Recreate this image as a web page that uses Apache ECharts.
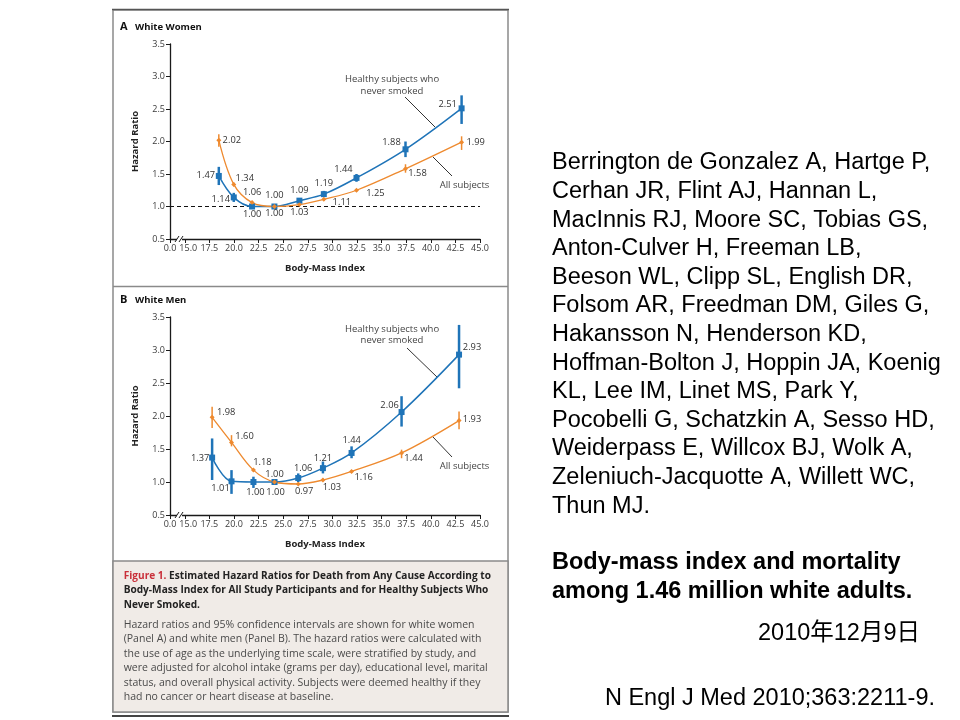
<!DOCTYPE html>
<html><head><meta charset="utf-8">
<script src="https://cdn.jsdelivr.net/npm/echarts@6/dist/echarts.min.js"></script>
<style>html,body{margin:0;padding:0;background:#fff}#c{width:960px;height:720px}</style>
</head><body><div id="c"></div>
<script>
// ---------- data ----------
const xTickValues = [15, 17.5, 20, 22.5, 25, 27.5, 30, 32.5, 35, 37.5, 40, 42.5, 45];
const xBreakValue = 13.5;            // drawn as "0.0" (axis break)
const yTickValues = [0.5, 1.0, 1.5, 2.0, 2.5, 3.0, 3.5];

const womenBmi = [18.46, 19.98, 21.84, 24.11, 26.65, 29.13, 32.45, 37.43, 43.13];
const womenHealthy = [1.47, 1.14, 1.00, 1.00, 1.09, 1.19, 1.44, 1.88, 2.51];
const womenHealthyLow = [1.33, 1.07, 0.97, null, 1.06, 1.15, 1.38, 1.76, 2.27];
const womenHealthyHigh = [1.61, 1.21, 1.03, null, 1.12, 1.24, 1.50, 2.00, 2.71];
const womenAll = [2.02, 1.34, 1.06, 1.00, 1.03, 1.11, 1.25, 1.58, 1.99];
const womenAllLow = [1.92, 1.31, 1.04, null, 1.02, 1.09, 1.23, 1.52, 1.87];
const womenAllHigh = [2.11, 1.37, 1.08, null, 1.04, 1.13, 1.27, 1.65, 2.08];

const menBmi = [17.78, 19.75, 21.98, 24.12, 26.53, 29.04, 31.95, 37.03, 42.87];
const menHealthy = [1.37, 1.01, 1.00, 1.00, 1.06, 1.21, 1.44, 2.06, 2.93];
const menHealthyLow = [1.03, 0.82, 0.91, null, 1.00, 1.13, 1.36, 1.84, 2.42];
const menHealthyHigh = [1.66, 1.18, 1.08, null, 1.13, 1.31, 1.54, 2.30, 3.38];
const menAll = [1.98, 1.60, 1.18, 1.00, 0.97, 1.03, 1.16, 1.44, 1.93];
const menAllLow = [1.82, 1.54, 1.16, null, 0.96, 1.01, 1.14, 1.36, 1.80];
const menAllHigh = [2.14, 1.71, 1.20, null, 0.98, 1.05, 1.18, 1.49, 2.07];

// ---------- label placement (layout, px offsets from the point) ----------
const offWomenHealthy = [[-13,-1],[-13,2],[0,8],[0,-11],[0,-10],[0,-11],[-13,-9],[-14,-7],[-14,-4]];
const offWomenAll = [[13,0],[11,-6],[0,-10],[0,7],[0,8],[18,3],[19,3],[12,5],[14,0]];
const offMenHealthy = [[-12,1],[-11,7],[2,10],[0,-8],[5,-10],[0,-10],[0,-13],[-12,-7],[13,-7]];
const offMenAll = [[14,-5],[13,-6],[9,-8],[1,10],[6,7],[9,7],[12,6],[12,5],[13,-1]];

const BLUE = '#1f74b8', ORANGE = '#ee8a2f';
const FF = '"Open Sans", "DejaVu Sans", sans-serif';

function lineSeries(ax, bmi, vals, offs, color, symbol, size, width, extra) {
  return Object.assign({
    type: 'line', xAxisIndex: ax, yAxisIndex: ax, smooth: 0.35,
    symbol: symbol, symbolSize: size, showAllSymbol: true,
    lineStyle: { color: color, width: width }, itemStyle: { color: color },
    label: { show: true, position: 'inside', color: '#333', fontFamily: FF, fontSize: 9.3,
      formatter: p => p.value[1].toFixed(2) },
    data: bmi.map((x, i) => ({ value: [x, vals[i]], label: { offset: offs[i] } })),
    z: 3, silent: true, animation: false
  }, extra || {});
}
function ciSeries(ax, bmi, lo, hi, color, width) {
  const data = [];
  bmi.forEach((x, i) => { if (lo[i] != null) data.push([x, lo[i], hi[i]]); });
  return {
    type: 'custom', xAxisIndex: ax, yAxisIndex: ax, data: data, encode: { x: 0, y: [1, 2] },
    renderItem: (params, api) => {
      const a = api.coord([api.value(0), api.value(1)]);
      const b = api.coord([api.value(0), api.value(2)]);
      return { type: 'line', shape: { x1: a[0], y1: a[1], x2: b[0], y2: b[1] },
        style: { stroke: color, lineWidth: width } };
    }, z: 4, silent: true, animation: false
  };
}
const tickFont = { fontFamily: FF, fontSize: 9, color: '#3a3a3a' };
function xAxis(gi) {
  const vals = [xBreakValue].concat(xTickValues);
  return {
    type: 'value', gridIndex: gi, min: xBreakValue, max: 45,
    name: 'Body-Mass Index', nameLocation: 'middle', nameGap: 24,
    nameTextStyle: { fontFamily: FF, fontWeight: 'bold', fontSize: 9.5, color: '#222' },
    axisLine: { lineStyle: { color: '#1a1a1a', width: 1.3 } },
    axisTick: { show: true, length: 4, customValues: vals, lineStyle: { color: '#1a1a1a', width: 1 } },
    axisLabel: Object.assign({ customValues: vals, margin: 5,
      formatter: v => (v < 14 ? '0.0' : (v === 15 ? '{p|15.0}' : v.toFixed(1))),
      rich: { p: Object.assign({ padding: [0, 0, 0, 7] }, tickFont) } }, tickFont),
    splitLine: { show: false }
  };
}
function yAxis(gi) {
  return {
    type: 'value', gridIndex: gi, min: yTickValues[0], max: yTickValues[yTickValues.length - 1], interval: 0.5,
    name: 'Hazard Ratio', nameLocation: 'middle', nameGap: 30, nameRotate: 90,
    nameTextStyle: { fontFamily: FF, fontWeight: 'bold', fontSize: 9.5, color: '#222' },
    axisLine: { show: true, lineStyle: { color: '#1a1a1a', width: 1.3 } },
    axisTick: { show: true, length: 4, lineStyle: { color: '#1a1a1a', width: 1 } },
    axisLabel: Object.assign({ margin: 5, formatter: v => v.toFixed(1) }, tickFont),
    splitLine: { show: false }
  };
}

const chart = echarts.init(document.getElementById('c'), null, { renderer: 'canvas' });

const txt = (x, y, text, font, fill, align, valign, extra) => ({
  type: 'text', x: x, y: y, silent: true,
  style: Object.assign({ text: text, font: font, fill: fill, textAlign: align || 'left', textVerticalAlign: valign || 'middle' }, extra || {})
});
const ln = (x1, y1, x2, y2, stroke, w) => ({ type: 'line', silent: true, shape: { x1, y1, x2, y2 }, style: { stroke: stroke, lineWidth: w } });
function axisBreak(x, y) {
  return [
    { type: 'rect', silent: true, shape: { x: x - 1, y: y - 2, width: 5, height: 4 }, style: { fill: '#fff' }, z: 10 },
    Object.assign(ln(x - 3, y + 3, x + 1, y - 3, '#1a1a1a', 1), { z: 11 }),
    Object.assign(ln(x + 1, y + 3, x + 5, y - 3, '#1a1a1a', 1), { z: 11 })
  ];
}

const captionBold = '{r|Figure 1.} Estimated Hazard Ratios for Death from Any Cause According to\nBody-Mass Index for All Study Participants and for Healthy Subjects Who\nNever Smoked.';
const captionText = 'Hazard ratios and 95% confidence intervals are shown for white women\n(Panel A) and white men (Panel B). The hazard ratios were calculated with\nthe use of age as the underlying time scale, were stratified by study, and\nwere adjusted for alcohol intake (grams per day), educational level, marital\nstatus, and overall physical activity. Subjects were deemed healthy if they\nhad no cancer or heart disease at baseline.';
const authors = 'Berrington de Gonzalez A, Hartge P,\nCerhan JR, Flint AJ, Hannan L,\nMacInnis RJ, Moore SC, Tobias GS,\nAnton-Culver H, Freeman LB,\nBeeson WL, Clipp SL, English DR,\nFolsom AR, Freedman DM, Giles G,\nHakansson N, Henderson KD,\nHoffman-Bolton J, Hoppin JA, Koenig\nKL, Lee IM, Linet MS, Park Y,\nPocobelli G, Schatzkin A, Sesso HD,\nWeiderpass E, Willcox BJ, Wolk A,\nZeleniuch-Jacquotte A, Willett WC,\nThun MJ.';
const RF = '"Liberation Sans", Arial, "Noto Sans CJK JP", sans-serif';

const graphics = [
  // frames
  { type: 'rect', silent: true, shape: { x: 113, y: 10, width: 395, height: 702 }, style: { fill: 'none', stroke: '#8a8a8a', lineWidth: 1.5 }, z: -5 },
  ln(112, 9.5, 509, 9.5, '#555', 1.5),
  ln(113, 286.5, 508, 286.5, '#8a8a8a', 1.5),
  { type: 'rect', silent: true, shape: { x: 113, y: 561, width: 395, height: 151 }, style: { fill: '#f0ebe7', stroke: '#8a8a8a', lineWidth: 1.5 }, z: -4 },
  ln(112, 716, 509, 716, '#444', 2),
  // panel titles
  txt(120, 27, 'A', 'bold 11px ' + FF, '#111'),
  txt(135, 27, 'White Women', 'bold 9.5px ' + FF, '#111'),
  txt(120, 300, 'B', 'bold 11px ' + FF, '#111'),
  txt(135, 300, 'White Men', 'bold 9.5px ' + FF, '#111'),
  // annotations A
  txt(392, 85.5, 'Healthy subjects who\nnever smoked', '9.5px ' + FF, '#444', 'center', 'middle', { lineHeight: 11.5 }),
  ln(405, 97, 435, 127, '#333', 1),
  txt(464.5, 185, 'All subjects', '9.5px ' + FF, '#444', 'center'),
  ln(452, 176, 433, 157, '#333', 1),
  // annotations B
  txt(392, 335, 'Healthy subjects who\nnever smoked', '9.5px ' + FF, '#444', 'center', 'middle', { lineHeight: 11.5 }),
  ln(407, 348, 437, 377, '#333', 1),
  txt(464.5, 466.7, 'All subjects', '9.5px ' + FF, '#444', 'center'),
  ln(452, 457, 433, 437, '#333', 1),
  // caption
  { type: 'text', x: 123.7, y: 568.5, silent: true,
    style: { text: captionBold, font: 'bold 10.1px ' + FF, fill: '#222', textAlign: 'left', textVerticalAlign: 'top', lineHeight: 14.6,
      rich: { r: { fill: '#c9303a', font: 'bold 10.1px ' + FF } } } },
  { type: 'text', x: 123.7, y: 617.3, silent: true,
    style: { text: captionText, font: '10.5px ' + FF, fill: '#4a4a4a', textAlign: 'left', textVerticalAlign: 'top', lineHeight: 14.5 } },
  // right text
  { type: 'text', x: 552, y: 148.7, silent: true,
    style: { text: authors, font: '23.5px ' + RF, fill: '#000', textAlign: 'left', textVerticalAlign: 'top', lineHeight: 28.6 } },
  { type: 'text', x: 552, y: 548.7, silent: true,
    style: { text: 'Body-mass index and mortality\namong 1.46 million white adults.', font: 'bold 23.5px ' + RF, fill: '#000', textAlign: 'left', textVerticalAlign: 'top', lineHeight: 28.6 } },
  txt(920, 634, '2010年12月9日', '23.5px ' + RF, '#000', 'right'),
  txt(935, 699, 'N Engl J Med 2010;363:2211-9.', '23.5px ' + RF, '#000', 'right')
].concat(axisBreak(178, 239), axisBreak(178, 515));

chart.setOption({
  animation: false,
  backgroundColor: '#fff',
  grid: [
    { left: 170, top: 44, width: 310, height: 195 },
    { left: 170, top: 317, width: 310, height: 198 }
  ],
  xAxis: [xAxis(0), xAxis(1)],
  yAxis: [yAxis(0), yAxis(1)],
  series: [
    lineSeries(0, womenBmi, womenHealthy, offWomenHealthy, BLUE, 'rect', 6, 1.5, {
      markLine: { silent: true, symbol: ['none', 'none'], label: { show: false },
        lineStyle: { type: [4, 3], color: '#111', width: 1.1 }, data: [{ yAxis: 1 }], z: 1 } }),
    lineSeries(0, womenBmi, womenAll, offWomenAll, ORANGE, 'diamond', 5, 1.3),
    ciSeries(0, womenBmi, womenHealthyLow, womenHealthyHigh, BLUE, 2.5),
    ciSeries(0, womenBmi, womenAllLow, womenAllHigh, ORANGE, 1.5),
    lineSeries(1, menBmi, menHealthy, offMenHealthy, BLUE, 'rect', 6, 1.5),
    lineSeries(1, menBmi, menAll, offMenAll, ORANGE, 'diamond', 5, 1.3),
    ciSeries(1, menBmi, menHealthyLow, menHealthyHigh, BLUE, 2.5),
    ciSeries(1, menBmi, menAllLow, menAllHigh, ORANGE, 1.5)
  ],
  graphic: { elements: graphics }
});
</script></body></html>
